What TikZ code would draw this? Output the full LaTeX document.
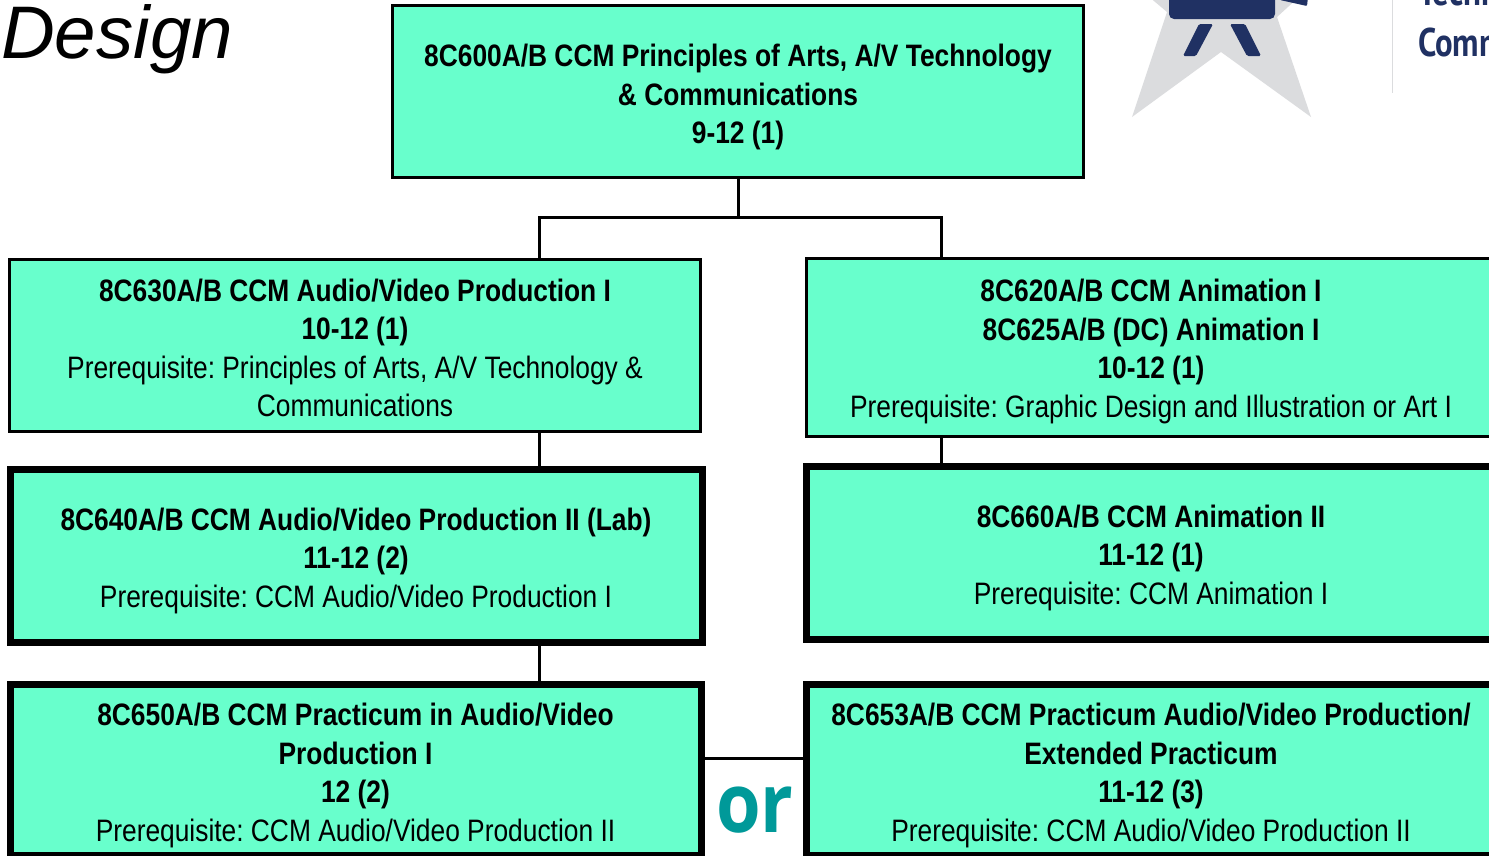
\documentclass[tikz,border=0pt]{standalone}
\usepackage{fontspec}
\setmainfont{Liberation Sans}
\newfontfamily\narrowf[FakeStretch=0.85]{Liberation Sans}
\newfontfamily\logof[FakeStretch=0.82]{PT Sans}
\newfontfamily\orf[FakeStretch=0.88]{Open Sans}
\definecolor{mint}{HTML}{68FFCC}
\definecolor{navy}{HTML}{203163}
\definecolor{stargrey}{HTML}{DBDCDE}
\definecolor{orteal}{HTML}{009999}
\newcommand\leadstrut[1]{\rule{0pt}{#1pt}}
\frenchspacing
\tikzset{
  course/.style={draw=black,fill=mint,line width=3pt,inner sep=0pt,outer sep=0pt,align=center,
    font=\fontsize{31}{38.5}\selectfont\narrowf\frenchspacing},
  thick course/.style={course,line width=7pt},
  link/.style={draw=black,line width=3pt},
}
\begin{document}
\begin{tikzpicture}[x=1pt,y=-1pt]
\useasboundingbox (0,0) rectangle (1489,855);
\clip (0,0) rectangle (1489,855);
% title
\node[anchor=base west,inner sep=0pt,font=\fontsize{74.5}{80}\selectfont\itshape] (title) at (1,58) {Design};
% logo
\fill[stargrey] (1148,-4) -- (1167,12) -- (1132,117) -- (1221,52) -- (1311,117) -- (1277,17) -- (1300,-4) -- cycle;
\fill[navy,rounded corners=5pt] (1169,-20) rectangle (1275,19);
\fill[navy,rounded corners=1.5pt] (1199,24) -- (1213,24) -- (1196,56) -- (1183,56) -- cycle;
\fill[navy,rounded corners=1.5pt] (1230,24) -- (1245,24) -- (1261,56) -- (1247,56) -- cycle;
\fill[navy,rounded corners=1pt] (1280,-3) -- (1308,-3) -- (1307,6) -- (1280,0) -- cycle;
\draw[color=stargrey,line width=1.5pt] (1392.5,0) -- (1392.5,93);
\node[anchor=base west,inner sep=0pt,text=navy,font=\fontsize{40}{44}\selectfont\bfseries\logof] (tech) at (1418,5) {Techn};
\node[anchor=base west,inner sep=0pt,text=navy,font=\fontsize{40}{44}\selectfont\bfseries\logof] (comm) at (1418,56) {Comm};
% boxes
\node[course,minimum width=691,minimum height=172] (a600) at (738,91.5)
  {\leadstrut{34}\textbf{8C600A/B CCM Principles of Arts, A/V Technology}\\ \textbf{\& Communications}\\ \textbf{9-12 (1)}};
\node[course,minimum width=691,minimum height=172] (a630) at (355,345.5)
  {\leadstrut{27}\textbf{8C630A/B CCM Audio/Video Production I}\\ \textbf{10-12 (1)}\\ Prerequisite: Principles of Arts, A/V Technology \&\\ Communications};
\node[course,minimum width=690,minimum height=178] (a620) at (1151,347)
  {\leadstrut{31}\textbf{8C620A/B CCM Animation I}\\ \textbf{8C625A/B (DC) Animation I}\\ \textbf{10-12 (1)}\\ Prerequisite: Graphic Design and Illustration or Art I};
\node[thick course,minimum width=692,minimum height=173] (a640) at (356,555.5)
  {\leadstrut{33}\textbf{8C640A/B CCM Audio/Video Production II (Lab)}\\ \textbf{11-12 (2)}\\ Prerequisite: CCM Audio/Video Production I};
\node[thick course,minimum width=690,minimum height=173] (a660) at (1151,552.5)
  {\leadstrut{33}\textbf{8C660A/B CCM Animation II}\\ \textbf{11-12 (1)}\\ Prerequisite: CCM Animation I};
\node[thick course,minimum width=691,minimum height=171] (a650) at (355.5,769.5)
  {\leadstrut{34}\textbf{8C650A/B CCM Practicum in Audio/Video}\\ \textbf{Production I}\\ \textbf{12 (2)}\\ Prerequisite: CCM Audio/Video Production II};
\node[thick course,minimum width=690,minimum height=171] (a653) at (1151,769.5)
  {\leadstrut{34}\textbf{8C653A/B CCM Practicum Audio/Video Production/}\\ \textbf{Extended Practicum}\\ \textbf{11-12 (3)}\\ Prerequisite: CCM Audio/Video Production II};
% connector anchors
\coordinate (split) at (a600.south |- 0,217);
\coordinate (leftx) at (539,217);
\coordinate (rightx) at (941,217);
\draw[link] (a600.south) -- (split);
\draw[link] (leftx) -- (rightx);
\draw[link,line cap=rect] (leftx) -- (leftx |- a630.north);
\draw[link,line cap=rect] (rightx) -- (rightx |- a620.north);
\draw[link] (leftx |- a630.south) -- (leftx |- a640.north);
\draw[link] (rightx |- a620.south) -- (rightx |- a660.north);
\draw[link] (leftx |- a640.south) -- (leftx |- a650.north);
\draw[link] (a650.east |- 0,758) -- (a653.west |- 0,758);
\node[anchor=base,inner sep=0pt,text=orteal,font=\fontsize{82}{86}\selectfont\bfseries\orf] (orlabel) at (755,832) {or};
\end{tikzpicture}
\end{document}
